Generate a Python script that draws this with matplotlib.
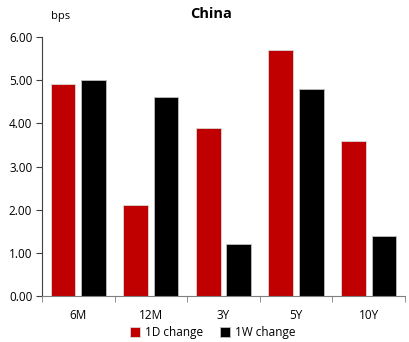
import numpy as np
import matplotlib.pyplot as plt

plt.rcParams['font.family'] = ['Open Sans', 'DejaVu Sans']
plt.rcParams['font.size'] = 8.5

tenors = ['6M', '12M', '3Y', '5Y', '10Y']
chg_1d = [4.9, 2.1, 3.9, 5.7, 3.6]
chg_1w = [5.0, 4.6, 1.2, 4.8, 1.4]

fig = plt.figure(figsize=(4.09, 3.42), dpi=100)
ax = fig.add_axes([0.1027, 0.1345, 0.8873, 0.7573])

x = np.arange(len(tenors))
w = 0.34
ax.bar(x - 0.21, chg_1d, w, color='#C00000', edgecolor='#d9d9d9', linewidth=0.6, label='1D change')
ax.bar(x + 0.21, chg_1w, w, color='black', edgecolor='#bfbfbf', linewidth=0.6, label='1W change')

ax.set_xlim(-0.5, len(tenors) - 0.5)
ax.set_ylim(0, 6)
ax.set_yticks(np.arange(0, 7, 1))
ax.set_yticklabels([f'{v:.2f}' for v in np.arange(0, 7, 1)])
ax.set_xticks(x)
ax.set_xticklabels(tenors)
ax.tick_params(axis='x', length=0, pad=9)
ax.set_xticks(np.arange(-0.5, len(tenors)), minor=True)
ax.tick_params(axis='x', which='minor', length=4, color='#7f7f7f')
ax.tick_params(axis='y', length=4, color='#404040', pad=3)

for s in ['top', 'right']:
    ax.spines[s].set_visible(False)
ax.spines['left'].set_color('#404040')
ax.spines['bottom'].set_color('#7f7f7f')

fig.text(0.515, 0.958, 'China', ha='center', va='center', fontsize=10.5, fontweight='bold')
fig.text(0.125, 0.952, 'bps', ha='left', va='center', fontsize=8)

fig.legend(loc='center', bbox_to_anchor=(0.52, 0.028), ncol=2, frameon=False,
           handlelength=0.9, handleheight=0.9, handletextpad=0.4, columnspacing=1.4, fontsize=8.5)

fig.savefig('out.png', dpi=100)
